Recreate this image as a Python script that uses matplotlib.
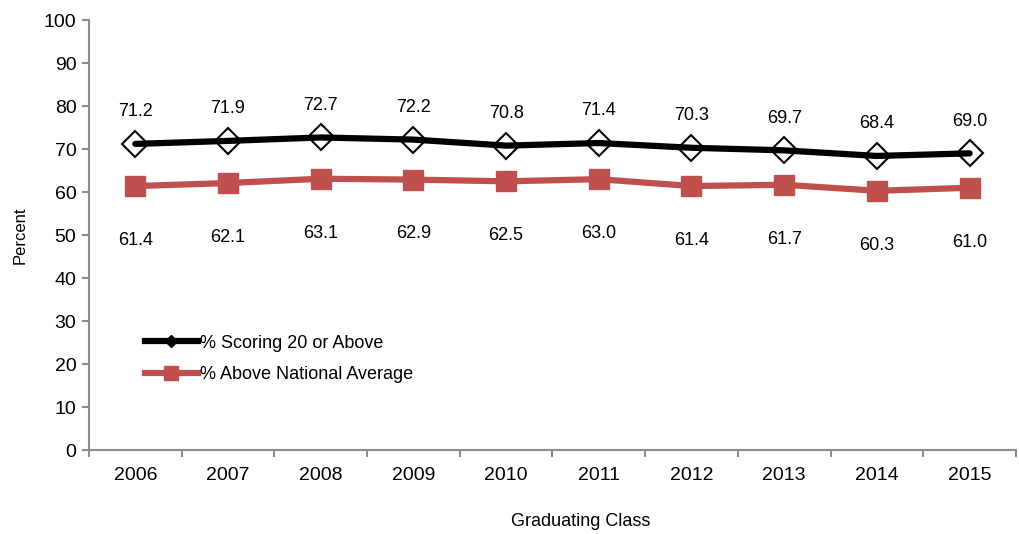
import matplotlib
matplotlib.use("Agg")
import matplotlib.pyplot as plt
from matplotlib.lines import Line2D

years = ["2006", "2007", "2008", "2009", "2010", "2011", "2012", "2013", "2014", "2015"]
scoring20 = [71.2, 71.9, 72.7, 72.2, 70.8, 71.4, 70.3, 69.7, 68.4, 69.0]
above_nat = [61.4, 62.1, 63.1, 62.9, 62.5, 63.0, 61.4, 61.7, 60.3, 61.0]
series_names = ["% Scoring 20 or Above", "% Above National Average"]

plt.rcParams['font.family'] = ['Liberation Sans', 'DejaVu Sans']
FS = 13
TFS = 14
red = '#C0504D'
gray = '#8C8C8C'

fig = plt.figure(figsize=(10.19, 5.34), dpi=100)
ax = fig.add_axes([0.0873, 0.157, 0.9097, 0.8055])

x = list(range(len(years)))
ax.plot(x, scoring20, color='black', lw=4.5, marker='D', ms=13, mfc='none',
        mec='black', mew=1.5, zorder=3, solid_capstyle='round')
ax.plot(x, above_nat, color=red, lw=4.5, marker='s', ms=14, mfc=red,
        mec=red, zorder=2)

for xi, v in zip(x, scoring20):
    ax.annotate(f"{v:.1f}", (xi, v), xytext=(0, 17), textcoords='offset points',
                ha='center', va='bottom', fontsize=FS)
for xi, v in zip(x, above_nat):
    ax.annotate(f"{v:.1f}", (xi, v), xytext=(0, -33), textcoords='offset points',
                ha='center', va='top', fontsize=FS)

ax.set_xlim(-0.5, len(years) - 0.5)
ax.set_ylim(0, 100)
ax.set_yticks(range(0, 101, 10))
ax.set_xticks(x)
ax.set_xticklabels(years, fontsize=TFS)
ax.set_xticks([i - 0.5 for i in range(len(years) + 1)], minor=True)
ax.tick_params(axis='x', which='major', length=0, pad=12)
ax.tick_params(axis='x', which='minor', length=5, color=gray, width=1.5, direction='out')
ax.tick_params(axis='y', length=5, color=gray, width=1.5, direction='out', labelsize=TFS, pad=4)

for s in ['top', 'right']:
    ax.spines[s].set_visible(False)
for s in ['left', 'bottom']:
    ax.spines[s].set_color(gray)
    ax.spines[s].set_linewidth(1.5)

ax.set_ylabel("Percent", fontsize=FS - 1, labelpad=12)
ax.set_xlabel("Graduating Class", fontsize=FS, va='center')
ax.xaxis.set_label_coords(0.53, -0.167)

handles = [
    Line2D([0], [0], color='black', lw=4.5, marker='D', ms=6, mfc='black', mec='black'),
    Line2D([0], [0], color=red, lw=4.5, marker='s', ms=10, mfc=red, mec=red),
]
ax.legend(handles, series_names, loc='upper left', bbox_to_anchor=(0.053, 0.285),
          frameon=False, fontsize=FS, handlelength=2.9, handletextpad=0.15,
          labelspacing=0.8, borderaxespad=0)

fig.savefig("out.png", dpi=100)
